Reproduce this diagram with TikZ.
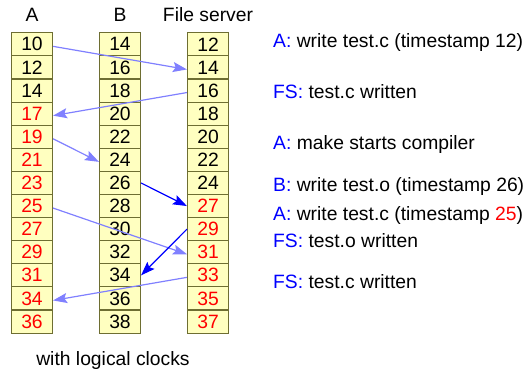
\documentclass[tikz,border=0pt]{standalone}
\usepackage{fontspec}
\setmainfont{Liberation Sans}
\usetikzlibrary{arrows.meta}
\definecolor{cellfill}{RGB}{255,255,192}
\definecolor{cellline}{RGB}{110,110,50}
\definecolor{msglight}{RGB}{128,128,255}
\definecolor{msgdark}{RGB}{0,0,255}
\definecolor{tsred}{RGB}{255,0,0}
\tikzset{
  cell/.style={draw=cellline, fill=cellfill, line width=1.1pt, minimum width=41pt,
    minimum height=23.1pt, inner sep=0pt, font=\fontsize{19.3}{20}\selectfont},
  late/.style={text=tsred},
  logline/.style={anchor=base west, inner sep=0pt, font=\fontsize{19.3}{20}\selectfont},
  colhead/.style={anchor=base, inner sep=0pt, font=\fontsize{19.3}{20}\selectfont},
  tip/.style={-{Stealth[length=14pt,width=10pt,inset=2.5pt]}},
  msg/.style={draw=msglight, line width=1.2pt, tip},
  msgb/.style={draw=msgdark, line width=1.2pt, tip},
}
\begin{document}
\begin{tikzpicture}[x=1pt,y=-1pt]
\useasboundingbox (0,0) rectangle (529,371);

% column headings
\node[colhead] (hA) at (32,22) {A};
\node[colhead] (hB) at (120,22) {B};
\node[colhead] (hF) at (208,22) {File server};

% clock columns
\foreach \v [count=\i from 0] in {10,12,14,17,19,21,23,25,27,29,31,34,36} {
  \ifnum\i>2 \node[cell,late] (a\i) at (32,{44.35+23.1*\i}) {\v};
  \else \node[cell] (a\i) at (32,{44.35+23.1*\i}) {\v}; \fi
}
\foreach \v [count=\i from 0] in {14,16,18,20,22,24,26,28,30,32,34,36,38} {
  \node[cell] (b\i) at (120,{44.35+23.1*\i}) {\v};
}
\foreach \v [count=\i from 0] in {12,14,16,18,20,22,24,27,29,31,33,35,37} {
  \ifnum\i>6 \node[cell,late] (f\i) at (208,{44.35+23.1*\i}) {\v};
  \else \node[cell] (f\i) at (208,{44.35+23.1*\i}) {\v}; \fi
}

% messages
\draw[msg] ([yshift=-2pt]a0.east) -- ([yshift=-2pt]f1.west);
\draw[msg] ([yshift=-2pt]f2.west) -- ([yshift=-2pt]a3.east);
\draw[msg] ([yshift=-2pt]a4.east) -- ([yshift=-2pt]b5.west);
\draw[msgb] (b6.east) -- (f7.west);
\draw[msg] ([yshift=-2pt]a7.east) -- ([yshift=-2pt]f9.west);
\draw[msgb] (f8.west) -- (b10.east);
\draw[msg] ([yshift=-2pt]f10.west) -- ([yshift=-2pt]a11.east);

% event log
\node[logline] (t1) at (273,47.5) {\textcolor{msgdark}{A:} write test.c (timestamp 12)};
\node[logline] (t2) at (273,98.5) {\textcolor{msgdark}{FS:} test.c written};
\node[logline] (t3) at (273,149.5) {\textcolor{msgdark}{A:} make starts compiler};
\node[logline] (t4) at (273,192) {\textcolor{msgdark}{B:} write test.o (timestamp 26)};
\node[logline] (t5) at (273,220) {\textcolor{msgdark}{A:} write test.c (timestamp \textcolor{tsred}{25})};
\node[logline] (t6) at (273,247) {\textcolor{msgdark}{FS:} test.o written};
\node[logline] (t7) at (273,288.5) {\textcolor{msgdark}{FS:} test.c written};

% caption
\node[colhead] (cap) at (113,365) {with logical clocks};
\end{tikzpicture}
\end{document}
